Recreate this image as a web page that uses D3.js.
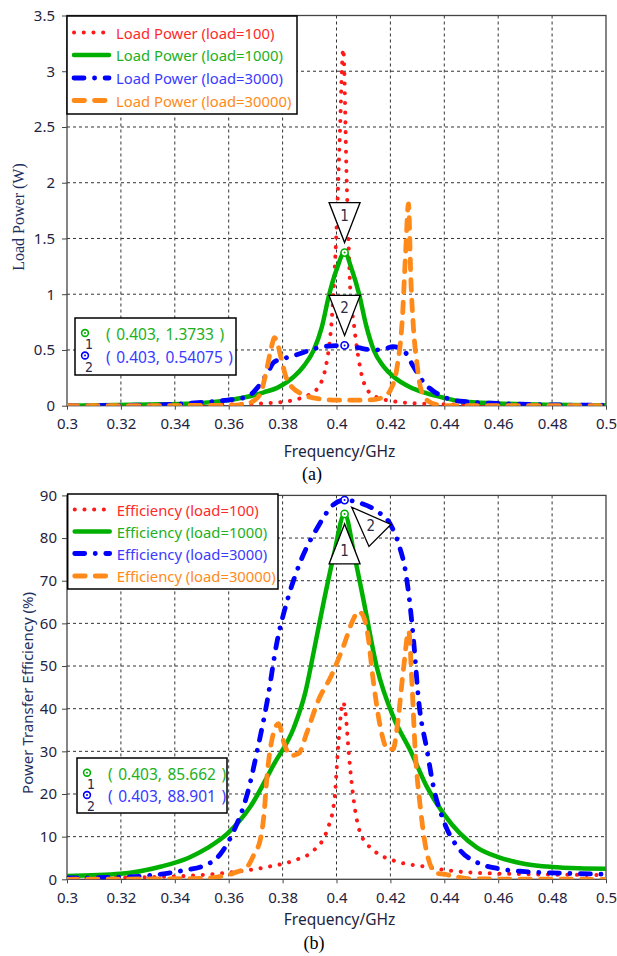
<!DOCTYPE html>
<html><head><meta charset="utf-8">
<script src="https://cdn.jsdelivr.net/npm/d3@7"></script>
<style>
html,body{margin:0;padding:0;background:#fff;}
svg{display:block;font-family:"Noto Sans","DejaVu Sans",sans-serif;}
</style></head>
<body><svg id="chart" width="617" height="956"></svg>
<script>
// ---------------- DATA ----------------
const xTicks = [0.3,0.32,0.34,0.36,0.38,0.4,0.42,0.44,0.46,0.48,0.5];
const xTickLabels = ["0.3","0.32","0.34","0.36","0.38","0.4","0.42","0.44","0.46","0.48","0.5"];
const powerTicks = [0,0.5,1,1.5,2,2.5,3,3.5];
const powerTickLabels = ["0","0.5","1","1.5","2","2.5","3","3.5"];
const effTicks = [0,10,20,30,40,50,60,70,80,90];
const effTickLabels = ["0","10","20","30","40","50","60","70","80","90"];

const loads = ["100","1000","3000","30000"];
const seriesColors = ["#ff1a1a","#00b000","#0000ff","#ff8a1a"];
const textColors = ["#ff2a2a","#22b022","#3a3aff","#ff8a1a"];

// Load power (W) vs frequency (GHz)
const power100 = [[0.300,0.0],[0.340,0.005],[0.360,0.012],[0.372,0.02],[0.382,0.04],[0.388,0.08],[0.3928,0.15],[0.3965,0.41],[0.3984,0.83],[0.400,1.58],[0.4012,2.4],[0.4025,3.2],[0.4038,2.0],[0.4052,1.0],[0.4064,0.74],[0.408,0.45],[0.4095,0.26],[0.4126,0.11],[0.417,0.06],[0.421,0.04],[0.430,0.02],[0.445,0.01],[0.470,0.005],[0.500,0.0]];
const power1000 = [[0.300,0.0],[0.330,0.01],[0.347,0.02],[0.360,0.05],[0.367,0.08],[0.373,0.12],[0.378,0.16],[0.3842,0.26],[0.388,0.36],[0.3916,0.5],[0.3945,0.7],[0.3973,1.0],[0.400,1.22],[0.403,1.3733],[0.4057,1.22],[0.4084,1.0],[0.411,0.72],[0.4138,0.5],[0.4175,0.35],[0.4212,0.26],[0.427,0.17],[0.4336,0.11],[0.440,0.07],[0.446,0.04],[0.460,0.02],[0.480,0.008],[0.500,0.004]];
const power3000 = [[0.300,0.0],[0.330,0.005],[0.345,0.02],[0.355,0.04],[0.3595,0.05],[0.3669,0.08],[0.3706,0.16],[0.3743,0.29],[0.3768,0.39],[0.380,0.42],[0.3842,0.45],[0.388,0.48],[0.3916,0.51],[0.397,0.535],[0.403,0.54075],[0.408,0.52],[0.4138,0.50],[0.418,0.51],[0.421,0.53],[0.4247,0.50],[0.4286,0.35],[0.4323,0.21],[0.436,0.13],[0.4397,0.08],[0.4459,0.04],[0.460,0.02],[0.480,0.008],[0.500,0.004]];
const power30000 = [[0.300,0.0],[0.360,0.003],[0.366,0.015],[0.369,0.04],[0.3718,0.11],[0.3743,0.35],[0.3758,0.52],[0.377,0.61],[0.3782,0.55],[0.3793,0.44],[0.3817,0.23],[0.3867,0.11],[0.394,0.06],[0.400,0.05],[0.410,0.05],[0.415,0.06],[0.418,0.09],[0.420,0.14],[0.4225,0.35],[0.4244,0.77],[0.4257,1.4],[0.4267,1.81],[0.4276,1.13],[0.4286,0.68],[0.4299,0.37],[0.4311,0.17],[0.4336,0.05],[0.437,0.01],[0.440,0.0],[0.500,0.0]];

// Power transfer efficiency (%) vs frequency (GHz)
const eff100 = [[0.300,0.3],[0.330,0.5],[0.350,1.0],[0.362,1.7],[0.3743,2.9],[0.3842,4.4],[0.3916,6.8],[0.3965,11.5],[0.3992,18.5],[0.4005,30],[0.4015,38],[0.4025,41.5],[0.4035,38],[0.4045,30],[0.4064,18.5],[0.4089,10.7],[0.4138,6.8],[0.4212,4.4],[0.4336,2.9],[0.440,2.2],[0.450,1.6],[0.470,1.2],[0.500,1.0]];
const eff1000 = [[0.300,0.8],[0.320,1.3],[0.335,3.0],[0.345,5.0],[0.352,7.3],[0.3595,10.7],[0.368,17],[0.3768,27],[0.3842,35.6],[0.3885,44],[0.3916,53.5],[0.3953,65.2],[0.399,76],[0.403,85.662],[0.4066,76],[0.4101,65.2],[0.415,49.6],[0.4212,37.9],[0.4274,30.2],[0.4336,21.6],[0.4397,15.4],[0.4459,10.7],[0.452,7.5],[0.460,5.2],[0.470,3.6],[0.480,2.9],[0.490,2.6],[0.500,2.5]];
const eff3000 = [[0.300,0.3],[0.320,0.5],[0.335,1.2],[0.345,2.3],[0.3496,2.9],[0.357,6],[0.362,11.5],[0.3669,20],[0.3706,30.2],[0.3743,41.8],[0.378,55.9],[0.3818,65.5],[0.3867,74.6],[0.3928,82.3],[0.399,87.9],[0.403,88.901],[0.4089,88.2],[0.415,86.3],[0.420,83.2],[0.4231,78.5],[0.4256,72.2],[0.4268,66.9],[0.4286,56],[0.4305,41.8],[0.4336,30.2],[0.436,21.6],[0.4397,13.8],[0.4459,6.8],[0.452,4],[0.460,2.5],[0.470,1.8],[0.480,1.5],[0.500,1.2]];
const eff30000 = [[0.300,0],[0.350,0.2],[0.358,0.8],[0.362,1.5],[0.3669,3],[0.3695,6],[0.3718,9.5],[0.373,14.6],[0.3743,24.7],[0.3765,34],[0.3785,36.5],[0.3805,32],[0.383,29],[0.386,29.5],[0.3889,34.2],[0.3933,42],[0.3982,47.9],[0.4025,54.5],[0.4062,60.9],[0.408,62.8],[0.4097,62],[0.4114,58.2],[0.4138,45.8],[0.4163,35.6],[0.419,30.5],[0.421,30.5],[0.4225,35.6],[0.4249,49.6],[0.4268,58.2],[0.428,45.8],[0.4292,30.2],[0.4311,16.9],[0.4336,6],[0.437,1.4],[0.440,1.2],[0.445,0.5],[0.450,0.1],[0.500,0]];

const powerMarkers = [[0.403,1.3733,1],[0.403,0.54075,2]];
const effMarkers = [[0.403,85.662,1],[0.403,88.901,2]];

// ---------------- STYLES ----------------
const dash = [
  {w:4, dash:"0.1 9.6", cap:"round"},
  {w:4.5, dash:null, cap:"round"},
  {w:4.8, dash:"10 10.5 0.1 10.5", cap:"round"},
  {w:4.8, dash:"10.5 10", cap:"round"}
];
const inkColor = "#1e2440";

const svg = d3.select("#chart");

function drawPanel(cfg){
  const x = d3.scaleLinear().domain([0.3,0.5]).range([cfg.left,cfg.right]);
  const y = d3.scaleLinear().domain([0,cfg.ymax]).range([cfg.bottom,cfg.top]);
  const g = svg.append("g");
  const clipId = "clip"+cfg.id;
  svg.append("defs").append("clipPath").attr("id",clipId).append("rect")
    .attr("x",cfg.left).attr("y",cfg.top).attr("width",cfg.right-cfg.left).attr("height",cfg.bottom-cfg.top);

  // grid
  g.selectAll(".gx").data(xTicks.slice(1,-1)).join("line")
    .attr("x1",d=>x(d)).attr("x2",d=>x(d)).attr("y1",cfg.top).attr("y2",cfg.bottom)
    .attr("stroke","#333").attr("stroke-width",1).attr("stroke-dasharray","3 3");
  g.selectAll(".gy").data(cfg.yTicks.slice(1,-1)).join("line")
    .attr("x1",cfg.left).attr("x2",cfg.right).attr("y1",d=>y(d)).attr("y2",d=>y(d))
    .attr("stroke","#333").attr("stroke-width",1).attr("stroke-dasharray","3 3");

  // axes
  const xAxis = d3.axisBottom(x).tickValues(xTicks).tickSize(4).tickPadding(9)
    .tickFormat((d,i)=>xTickLabels[i]);
  const ax = g.append("g").attr("transform",`translate(0,${cfg.bottom})`).call(xAxis);
  ax.select(".domain").remove();
  ax.selectAll("line").attr("stroke","#444");
  ax.selectAll("text").attr("fill",inkColor).attr("font-size","15px")
    .attr("font-family","Noto Sans, sans-serif");

  const yAxis = d3.axisLeft(y).tickValues(cfg.yTicks).tickSize(5).tickPadding(cfg.ypad)
    .tickFormat((d,i)=>cfg.yLabels[i]);
  const ay = g.append("g").attr("transform",`translate(${cfg.left},0)`).call(yAxis);
  ay.select(".domain").remove();
  ay.selectAll("line").attr("stroke","#444");
  ay.selectAll("text").attr("fill",inkColor).attr("font-size","15px")
    .attr("font-family","Noto Sans, sans-serif");

  // border
  g.append("rect").attr("x",cfg.left).attr("y",cfg.top)
    .attr("width",cfg.right-cfg.left).attr("height",cfg.bottom-cfg.top)
    .attr("fill","none").attr("stroke","#444").attr("stroke-width",1.3);

  // series
  const line = d3.line().x(d=>x(d[0])).y(d=>y(d[1])).curve(d3.curveMonotoneX);
  const lg = g.append("g").attr("clip-path",`url(#${clipId})`);
  cfg.series.forEach((s,i)=>{
    const p = lg.append("path").datum(s).attr("d",line).attr("fill","none")
      .attr("stroke",seriesColors[i]).attr("stroke-width",dash[i].w)
      .attr("stroke-linecap",dash[i].cap).attr("stroke-linejoin","round");
    if(dash[i].dash) p.attr("stroke-dasharray",dash[i].dash);
  });

  // marker triangles
  cfg.markers.forEach((m,k)=>{
    const px = x(m[0]), py = y(m[1]);
    const tri = cfg.triangles[k];
    const ang = tri.angle;
    const tg = g.append("g").attr("transform",`translate(${px},${py}) rotate(${ang})`);
    tg.append("path").attr("d","M0,10 L-15.5,50 L15.5,50 Z")
      .attr("fill","#fff").attr("stroke","#000").attr("stroke-width",1.3).attr("stroke-linejoin","miter");
    const cx = px - Math.sin(ang*Math.PI/180)*37, cy = py + Math.cos(ang*Math.PI/180)*37;
    g.append("text").attr("x",cx).attr("y",cy).attr("text-anchor","middle")
      .attr("dominant-baseline","central").attr("font-size","15px").attr("fill","#2a2a48")
      .attr("font-family","DejaVu Sans Condensed, DejaVu Sans, sans-serif").text(m[2]);
  });
  cfg.markers.forEach((m,k)=>{
    const px = x(m[0]), py = y(m[1]);
    const c = k===0 ? seriesColors[1] : seriesColors[2];
    g.append("circle").attr("cx",px).attr("cy",py).attr("r",3.6).attr("fill","#fff")
      .attr("stroke",c).attr("stroke-width",1.6);
    g.append("circle").attr("cx",px).attr("cy",py).attr("r",1).attr("fill",c);
  });

  // legend
  const L = cfg.legend;
  g.append("rect").attr("x",L.x).attr("y",L.y).attr("width",L.w).attr("height",L.h)
    .attr("fill","#fff").attr("stroke","#000").attr("stroke-width",1.5);
  L.rows.forEach((ry,i)=>{
    const p = g.append("line").attr("x1",L.x+7).attr("x2",L.x+42).attr("y1",ry).attr("y2",ry)
      .attr("stroke",seriesColors[i]).attr("stroke-width",dash[i].w)
      .attr("stroke-linecap",dash[i].cap);
    if(dash[i].dash) p.attr("stroke-dasharray",dash[i].dash);
    g.append("text").attr("x",L.x+49).attr("y",ry).attr("dominant-baseline","central")
      .attr("font-size",L.fs).attr("fill",textColors[i])
      .text(`${cfg.name} (load=${loads[i]})`);
  });

  // marker readout box
  const B = cfg.box;
  g.append("rect").attr("x",B.x).attr("y",B.y).attr("width",B.w).attr("height",B.h)
    .attr("fill","#fff").attr("stroke","#000").attr("stroke-width",1.5);
  cfg.markers.forEach((m,k)=>{
    const c = k===0 ? seriesColors[1] : seriesColors[2];
    const tc = k===0 ? textColors[1] : textColors[2];
    const iy = B.rows[k];
    g.append("circle").attr("cx",B.x+10).attr("cy",iy).attr("r",3.4).attr("fill","#fff")
      .attr("stroke",c).attr("stroke-width",1.6);
    g.append("circle").attr("cx",B.x+10).attr("cy",iy).attr("r",1).attr("fill",c);
    g.append("text").attr("x",B.x+14).attr("y",iy+11).attr("text-anchor","middle")
      .attr("dominant-baseline","central").attr("font-size","14px").attr("fill","#2a2a48")
      .attr("font-family","DejaVu Sans Condensed, DejaVu Sans, sans-serif").text(m[2]);
    g.append("text").attr("x",B.x+31).attr("y",iy+1).attr("dominant-baseline","central")
      .attr("font-size","15.5px").attr("fill",tc).attr("xml:space","preserve")
      .attr("word-spacing","1.5px")
      .text(`( ${m[0]}, ${m[1]} )`);
  });

  // titles
  g.append("text").attr("x",(cfg.left+cfg.right)/2+3).attr("y",cfg.xTitleY)
    .attr("text-anchor","middle").attr("font-size","15.5px").attr("fill",inkColor)
    .text("Frequency/GHz");
  g.append("text").attr("transform",`translate(${cfg.yTitleX},${cfg.yTitleY}) rotate(-90)`)
    .attr("text-anchor","middle").attr("fill",cfg.yTitleColor).attr("font-size",cfg.yTitleSize)
    .attr("font-family",cfg.yTitleFont).text(cfg.yTitle);
  g.append("text").attr("x",cfg.capX).attr("y",cfg.capY).attr("text-anchor","middle")
    .attr("font-family","Liberation Serif, Times New Roman, serif").attr("font-size","18px")
    .attr("fill","#000").text(cfg.caption);
}

drawPanel({
  id:"a", left:67, right:606, top:15.5, bottom:405.7, ymax:3.5,
  yTicks:powerTicks, yLabels:powerTickLabels, ypad:7,
  series:[power100,power1000,power3000,power30000],
  name:"Load Power",
  markers:powerMarkers,
  triangles:[{angle:180},{angle:180}],
  legend:{x:67,y:16,w:230,h:98,rows:[32.5,55,78,100.5],fs:"14.8px"},
  box:{x:75,y:318,w:161,h:57,rows:[333,355.5]},
  xTitleY:456.5, yTitleX:24, yTitleY:217, yTitle:"Load Power (W)",
  yTitleFont:"Liberation Serif, Times New Roman, serif", yTitleSize:"16px", yTitleColor:"#1f3060",
  caption:"(a)", capX:312, capY:480
});
drawPanel({
  id:"b", left:67, right:606, top:495.4, bottom:879.3, ymax:90,
  yTicks:effTicks, yLabels:effTickLabels, ypad:5,
  series:[eff100,eff1000,eff3000,eff30000],
  name:"Efficiency",
  markers:effMarkers,
  triangles:[{angle:0},{angle:-45}],
  legend:{x:67.7,y:494,w:210.3,h:95,rows:[509.5,531.5,553.5,576],fs:"14.8px"},
  box:{x:77,y:758,w:150,h:55,rows:[772.7,795]},
  xTitleY:924.5, yTitleX:33, yTitleY:693, yTitle:"Power Transfer Efficiency (%)",
  yTitleFont:"Noto Sans, sans-serif", yTitleSize:"15px", yTitleColor:"#1f3060",
  caption:"(b)", capX:314, capY:949
});
</script></body></html>
